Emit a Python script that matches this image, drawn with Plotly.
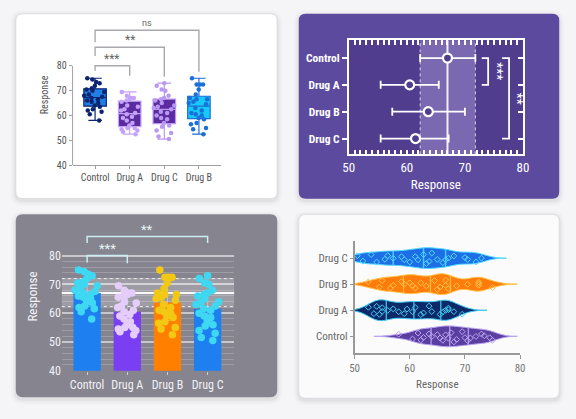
import numpy as np
import plotly.graph_objects as go

W, H = 576, 419

# ---------------- data ----------------
groups = ["Control", "Drug A", "Drug B", "Drug C"]
box_order = ["Control", "Drug A", "Drug C", "Drug B"]

control = [75, 74.5, 73.5, 73, 72, 71, 70.5, 70, 69.5, 68.5, 68, 67.5, 67, 66.5,
           66, 65.5, 65, 64, 63.5, 62.5, 62, 61.5, 60.5, 58]
drug_a = [69.5, 68, 67, 67, 66.5, 66, 65.5, 64, 63.5, 62.5, 62, 61, 60.5, 59.5,
          59, 58, 57, 56, 55, 55, 54.5, 54, 53.5, 52.5]
drug_b = [75, 72.5, 72.5, 72.5, 70.5, 68.5, 67, 66.5, 66.5, 65.5, 65, 64.5, 63,
          62, 61, 60.5, 60, 59, 58.5, 57, 56.5, 55, 54.5, 52.5]
drug_c = [73, 72, 70.5, 70, 68, 67, 66.5, 66, 65, 64, 63.5, 63, 62.5, 61.5, 61,
          60, 59, 58.5, 57, 56, 55.5, 54, 53, 51.5, 50.5]
values = {"Control": control, "Drug A": drug_a, "Drug B": drug_b, "Drug C": drug_c}

means = [67.0, 60.5, 63.7, 61.5]
sd_low = [62.3, 55.5, 57.5, 55.5]
sd_high = [71.8, 65.5, 70.0, 67.2]

tick_major = [40, 50, 60, 70, 80]
x_ticks = [50, 60, 70, 80]

# significance brackets (pairs and labels)
p1_pairs = [("Control", "Drug A"), ("Control", "Drug C"), ("Control", "Drug B")]
p1_labels = ["***", "**", "ns"]
p2_pairs = [("Control", "Drug A"), ("Control", "Drug C")]
p2_labels = ["***", "**"]
p3_pairs = [("Control", "Drug A"), ("Control", "Drug C")]
p3_labels = ["***", "**"]

FONT = "Roboto, Inter, sans-serif"
NARROW = "Liberation Sans Narrow, Arial Narrow, Roboto Condensed, Roboto, sans-serif"


def fx(px):
    return px / W


def fy(py):
    return 1 - py / H


def rrect(x0, y0, x1, y1, r):
    X = lambda v: f"{v / W:.5f}"
    Y = lambda v: f"{1 - v / H:.5f}"
    return (f"M {X(x0 + r)},{Y(y0)} L {X(x1 - r)},{Y(y0)} Q {X(x1)},{Y(y0)} {X(x1)},{Y(y0 + r)} "
            f"L {X(x1)},{Y(y1 - r)} Q {X(x1)},{Y(y1)} {X(x1 - r)},{Y(y1)} "
            f"L {X(x0 + r)},{Y(y1)} Q {X(x0)},{Y(y1)} {X(x0)},{Y(y1 - r)} "
            f"L {X(x0)},{Y(y0 + r)} Q {X(x0)},{Y(y0)} {X(x0 + r)},{Y(y0)} Z")


fig = go.Figure()
shapes = []
annotations = []

# ---------------- cards ----------------
cards = [
    ((10, 14, 277, 202), "#ffffff", "#dcdcdf"),
    ((299, 14, 565, 202), "#5c4a9f", None),
    ((10, 218, 277, 404), "#86848f", None),
    ((299, 218, 565, 405), "#fbfbfb", "#dedee2"),
]
for (x0, y0, x1, y1), fill, border in cards:
    for k, a in [(5, 0.018), (3, 0.025), (1.5, 0.035)]:
        shapes.append(dict(type="path", xref="paper", yref="paper", layer="below",
                           path=rrect(x0 - k, y0 - k + 2, x1 + k, y1 + k + 2, 7 + k),
                           fillcolor=f"rgba(0,0,0,{a})", line=dict(width=0)))
    shapes.append(dict(type="path", xref="paper", yref="paper", layer="below",
                       path=rrect(x0, y0, x1, y1, 7), fillcolor=fill,
                       line=dict(color=border or fill, width=1 if border else 0)))

# ---------------- panel 1: box plots ----------------
p1_fill = {"Control": "#1f7fe5", "Drug A": "#5b2ca0", "Drug C": "#5b2ca0", "Drug B": "#16c9f8"}
p1_pts = {"Control": "#0d2570", "Drug A": "#c4a2fb", "Drug C": "#b998f2", "Drug B": "#1a6fd8"}
for g in box_order:
    fig.add_trace(go.Box(
        x=[g] * len(values[g]), y=values[g], xaxis="x", yaxis="y",
        boxpoints="all", jitter=1.0, pointpos=0, width=0.65, whiskerwidth=0.6,
        fillcolor=p1_fill[g], line=dict(color=p1_pts[g], width=1.2),
        marker=dict(color=p1_pts[g], size=4.5), hoverinfo="skip", showlegend=False))

p1_levels = [80, 87.5, 94.3]
p1_left = [78, 84, 89.5]
p1_right = [76, 75.6, 77.6]
for (a, b), lab, lv, le, re in zip(p1_pairs, p1_labels, p1_levels, p1_left, p1_right):
    fig.add_trace(go.Scatter(x=[a, a, b, b], y=[le, lv, lv, re], mode="lines",
                             xaxis="x", yaxis="y", line=dict(color="#a9a9ad", width=1.4),
                             hoverinfo="skip", showlegend=False))
    mid = (box_order.index(a) + box_order.index(b)) / 2
    star = lab.startswith("*")
    annotations.append(dict(x=mid, y=lv, xref="x", yref="y", text=lab, showarrow=False,
                            yanchor="bottom", yshift=-2 if star else 0,
                            font=dict(size=12 if star else 9, color="#666", family=FONT)))
shapes.append(dict(type="line", xref="paper", yref="y", x0=fx(68), x1=fx(68),
                   y0=tick_major[0], y1=tick_major[-1], line=dict(color="#a0a0a5", width=1)))

# ---------------- panel 2: mean +/- SD ----------------
p2_bg = "#503d8e"
shapes.append(dict(type="rect", xref="x2 domain", yref="y2 domain", x0=0, x1=1, y0=0, y1=1,
                   fillcolor=p2_bg, line=dict(width=0), layer="below"))
shapes.append(dict(type="rect", xref="x2", yref="y2 domain", x0=sd_low[0], x1=sd_high[0],
                   y0=0, y1=1, fillcolor="rgba(200,185,240,0.35)", line=dict(width=0),
                   layer="below"))
for v in (sd_low[0], sd_high[0]):
    shapes.append(dict(type="line", xref="x2", yref="y2 domain", x0=v, x1=v, y0=0, y1=1,
                       line=dict(color="rgba(255,255,255,0.75)", width=1, dash="dot"),
                       layer="below"))
shapes.append(dict(type="line", xref="x2", yref="y2 domain", x0=means[0], x1=means[0],
                   y0=0, y1=1, line=dict(color="rgba(255,255,255,0.9)", width=2),
                   layer="below"))

fig.add_trace(go.Scatter(
    x=means, y=groups, xaxis="x2", yaxis="y2", mode="markers",
    error_x=dict(type="data", symmetric=False,
                 array=[h - m for h, m in zip(sd_high, means)],
                 arrayminus=[m - l for m, l in zip(means, sd_low)],
                 color="white", thickness=1.8, width=4),
    marker=dict(symbol="circle", size=9, color=p2_bg, line=dict(color="white", width=2.2)),
    hoverinfo="skip", showlegend=False))
fig.add_trace(go.Scatter(x=means, y=groups, xaxis="x2", yaxis="y7", mode="markers",
                         marker=dict(opacity=0), hoverinfo="skip", showlegend=False))

p2_vx = [74.0, 77.6]
p2_arm = [72.9, 76.4]
p2_tx = [75.4, 78.9]
for (a, b), lab, vx, ax_, tx in zip(p2_pairs, p2_labels, p2_vx, p2_arm, p2_tx):
    fig.add_trace(go.Scatter(x=[ax_, vx, vx, ax_], y=[a, a, b, b], mode="lines",
                             xaxis="x2", yaxis="y2", line=dict(color="white", width=1.8),
                             hoverinfo="skip", showlegend=False))
    mid = (groups.index(a) + groups.index(b)) / 2
    annotations.append(dict(x=tx, y=mid, xref="x2", yref="y2", text=lab, showarrow=False,
                            textangle=90, font=dict(size=14, color="white", family=FONT)))

# ---------------- panel 3: bars ----------------
p3_bar = ["#1d7ff0", "#7a3ff3", "#ff8000", "#1d7ff0"]
p3_pts = ["#3fd8f2", "#e4cdf8", "#f2c814", "#3fd8f2"]
shapes.append(dict(type="rect", xref="x3 domain", yref="y3", x0=0, x1=1,
                   y0=sd_low[0], y1=sd_high[0] + 0.2, fillcolor="rgba(255,255,255,0.2)",
                   line=dict(width=0), layer="below"))
for v in (sd_low[0], sd_high[0] + 0.2):
    shapes.append(dict(type="line", xref="x3 domain", yref="y3", x0=0, x1=1, y0=v, y1=v,
                       line=dict(color="rgba(255,255,255,0.8)", width=1, dash="dot"),
                       layer="below"))
shapes.append(dict(type="line", xref="x3 domain", yref="y3", x0=0, x1=1, y0=means[0],
                   y1=means[0], line=dict(color="rgba(255,255,255,0.95)", width=2),
                   layer="below"))

fig.add_trace(go.Bar(
    x=groups, y=means, xaxis="x3", yaxis="y3", width=0.68,
    marker=dict(color=p3_bar, line=dict(width=0)),
    error_y=dict(type="data", symmetric=False,
                 array=[h - m for h, m in zip(sd_high, means)],
                 arrayminus=[m - l for m, l in zip(means, sd_low)],
                 color="rgba(255,255,255,0.35)", thickness=1, width=3),
    hoverinfo="skip", showlegend=False))
for g, c in zip(groups, p3_pts):
    fig.add_trace(go.Box(
        x=[g] * len(values[g]), y=values[g], xaxis="x3", yaxis="y3",
        boxpoints="all", jitter=1.0, pointpos=0, width=0.62, whiskerwidth=0,
        fillcolor="rgba(0,0,0,0)", line=dict(color="rgba(0,0,0,0)", width=0),
        marker=dict(color=c, size=7.5), hoverinfo="skip", showlegend=False))

p3_levels = [80, 86.6]
p3_left = [77.6, 84.4]
p3_right = [77.3, 84.4]
for (a, b), lab, lv, le, re in zip(p3_pairs, p3_labels, p3_levels, p3_left, p3_right):
    fig.add_trace(go.Scatter(x=[a, a, b, b], y=[le, lv, lv, re], mode="lines",
                             xaxis="x3", yaxis="y3", line=dict(color="#c9eef2", width=1.5),
                             hoverinfo="skip", showlegend=False))
    mid = (groups.index(a) + groups.index(b)) / 2
    annotations.append(dict(x=mid, y=lv, xref="x3", yref="y3", text=lab, showarrow=False,
                            yanchor="bottom", yshift=-2,
                            font=dict(size=13, color="#e8f4f6", family=FONT)))

# ---------------- panel 4: violins ----------------
p4_fill = {"Control": "#5b3fa0", "Drug A": "#0c2a6a", "Drug B": "#ff7c0a", "Drug C": "#1d6fe6"}
p4_edge = {"Control": "#bba4f2", "Drug A": "#45cdf2", "Drug B": "#ffc24a", "Drug C": "#55dcff"}
bw = 1.6
vwidth = 0.8
for i, g in enumerate(groups):
    v = np.array(values[g], dtype=float)
    span = [v.min() - 4.5, v.max() + 4.5]
    fig.add_trace(go.Violin(
        x=v, y0=i, orientation="h", name=g, xaxis="x4", yaxis="y4",
        points="all", pointpos=0, jitter=0.55, width=vwidth,
        bandwidth=bw, spanmode="manual", span=span,
        fillcolor=p4_fill[g], line=dict(color=p4_edge[g], width=1),
        marker=dict(symbol="diamond-open", size=4.5, color=p4_edge[g],
                    line=dict(width=1, color=p4_edge[g])),
        hoveron="points", hoverinfo="skip", showlegend=False))
    grid = np.linspace(span[0], span[1], 400)
    dens = np.exp(-0.5 * ((grid[:, None] - v[None, :]) / bw) ** 2).sum(axis=1)
    dmax = dens.max()
    qx, qy = [], []
    for q in np.percentile(v, [25, 50, 75]):
        d = np.exp(-0.5 * ((q - v) / bw) ** 2).sum()
        h = vwidth / 2 * d / dmax
        qx += [q, q, None]
        qy += [i - h, i + h, None]
    fig.add_trace(go.Scatter(x=qx, y=qy, mode="lines", xaxis="x4", yaxis="y4",
                             line=dict(color=p4_edge[g], width=1.4), opacity=0.85,
                             hoverinfo="skip", showlegend=False))

# ---------------- layout ----------------
fig.update_layout(
    width=W, height=H, autosize=False, margin=dict(l=0, r=0, t=0, b=0),
    paper_bgcolor="#f5f5f7", plot_bgcolor="rgba(0,0,0,0)",
    font=dict(family=FONT), showlegend=False, boxmode="overlay", violinmode="overlay",
    shapes=shapes, annotations=annotations,
    # panel 1
    xaxis=dict(domain=[fx(68), fx(220)], anchor="y", type="category",
               categoryorder="array", categoryarray=box_order, range=[-0.65, 3.65],
               showline=True, linecolor="#a0a0a5", linewidth=1, ticks="outside",
               ticklen=3, tickcolor="#a0a0a5",
               showgrid=False, zeroline=False,
               tickfont=dict(size=10, color="#555", family=NARROW)),
    yaxis=dict(domain=[fy(168), fy(25)], anchor="x", range=[40, 96.6],
               tickvals=tick_major, ticks="outside", ticklen=3, tickcolor="#a0a0a5",
               showline=False, showgrid=False, zeroline=False,
               tickfont=dict(size=10, color="#555", family=NARROW),
               title=dict(text="Response", font=dict(size=10, color="#555", family=NARROW),
                          standoff=6)),
    # panel 2
    xaxis2=dict(domain=[fx(350), fx(528)], anchor="y2", range=[50, 80], tickvals=x_ticks,
                ticks="inside", ticklen=5, tickcolor="white", tickwidth=1.5,
                minor=dict(dtick=1, ticks="inside", ticklen=3, tickcolor="white"),
                showline=True, linecolor="white", linewidth=1.5, mirror="allticks",
                showgrid=False, zeroline=False,
                tickfont=dict(size=13, color="white", family=NARROW),
                title=dict(text="Response", font=dict(size=13, color="white", family=NARROW),
                           standoff=6)),
    yaxis2=dict(domain=[fy(157), fy(41)], anchor="x2", type="category",
                categoryorder="array", categoryarray=groups, range=[3.59, -0.66],
                ticks="outside", ticklen=5, tickcolor="white", tickwidth=1.5,
                showline=True, linecolor="white", linewidth=1.5, mirror=True,
                showgrid=False, zeroline=False,
                tickfont=dict(size=11.5, color="white", family=NARROW, weight="bold")),
    yaxis7=dict(overlaying="y2", side="right", anchor="x2", type="category",
                categoryorder="array", categoryarray=groups, range=[3.59, -0.66],
                ticks="inside", ticklen=5, tickcolor="white", tickwidth=1.5,
                showticklabels=False, showline=False, showgrid=False, zeroline=False),
    # panel 3
    xaxis3=dict(domain=[fx(57), fx(233)], anchor="y3", type="category",
                categoryorder="array", categoryarray=groups, range=[-0.63, 3.66],
                showline=False, ticks="outside", ticklen=3,
                tickcolor="rgba(255,255,255,0.6)", showgrid=False, zeroline=False,
                tickfont=dict(size=12, color="#f2f2f6", family=NARROW)),
    yaxis3=dict(domain=[fy(377), fy(226)], anchor="x3", range=[40, 91.6],
                tickvals=tick_major, ticks="", showline=False, zeroline=False,
                showgrid=True, gridcolor="rgba(255,255,255,0.55)", gridwidth=1.5,
                minor=dict(tickvals=[t for t in range(42, 80, 2) if t % 10],
                           showgrid=True, gridcolor="rgba(255,255,255,0.2)", gridwidth=1),
                tickfont=dict(size=12, color="#f2f2f6", family=NARROW),
                title=dict(text="Response", font=dict(size=13, color="#f2f2f6", family=NARROW),
                           standoff=8)),
    # panel 4
    xaxis4=dict(domain=[fx(356), fx(525)], anchor="y4", range=[50, 80], tickvals=x_ticks,
                ticks="outside", ticklen=4, tickcolor="#999", showline=True,
                linecolor="#999", linewidth=1.5, showgrid=False, zeroline=False,
                tickfont=dict(size=11, color="#777", family=NARROW),
                title=dict(text="Response", font=dict(size=11, color="#666", family=NARROW),
                           standoff=6)),
    yaxis4=dict(domain=[fy(359), fy(245)], anchor="x4", range=[-0.64, 3.66],
                tickvals=list(range(len(groups))), ticktext=groups,
                ticks="outside", ticklen=3, tickcolor="#999", showline=True,
                linecolor="#999", linewidth=1.5, showgrid=False, zeroline=False,
                tickfont=dict(size=11, color="#666", family=NARROW)),
)

fig.write_html("out.html")
